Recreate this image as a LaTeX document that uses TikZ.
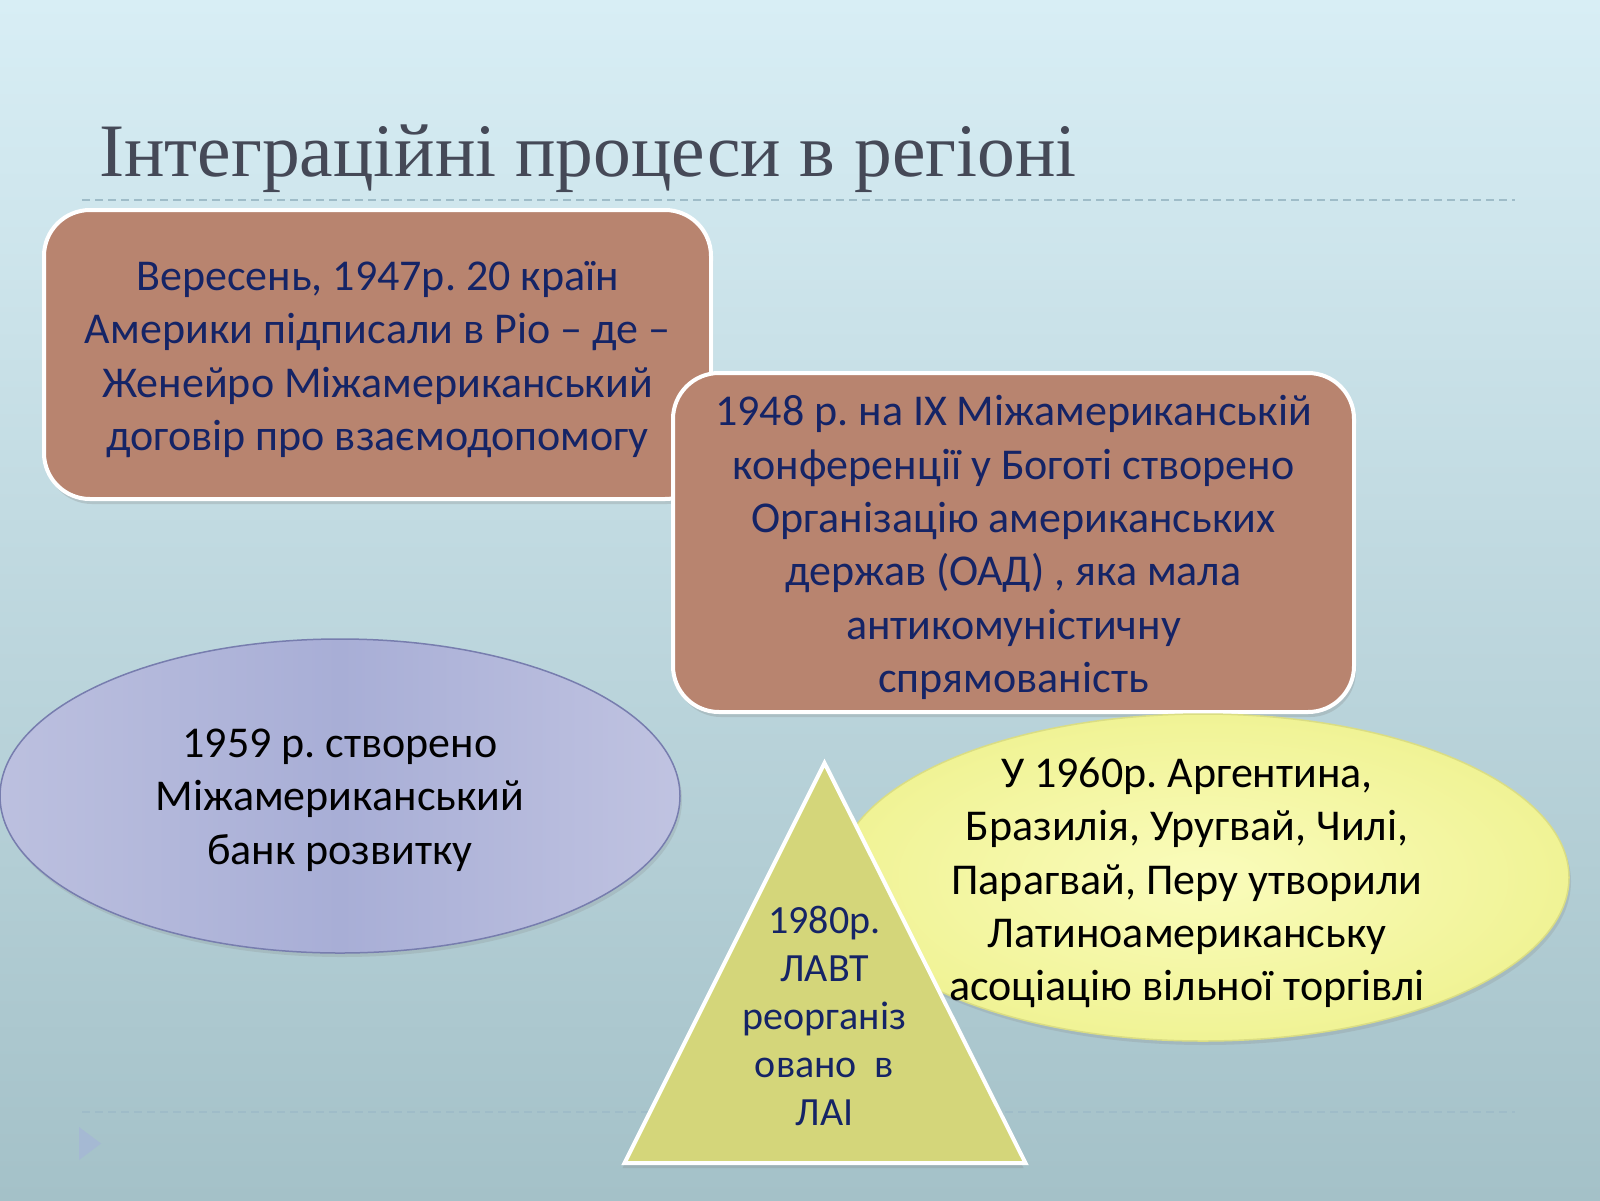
\documentclass[tikz,border=0pt]{standalone}
\usepackage{fontspec}
\setmainfont{Carlito}
\newfontfamily\titlefont{Liberation Serif}
\usetikzlibrary{shadows,shapes.geometric}
\definecolor{bgtop}{HTML}{D8EEF5}
\definecolor{bgbot}{HTML}{A4C1C8}
\definecolor{titlegray}{HTML}{454957}
\definecolor{dashcol}{HTML}{9FBCC8}
\definecolor{bulletcol}{HTML}{A5B9D3}
\definecolor{boxfill}{HTML}{B8846F}
\definecolor{navy}{HTML}{152466}
\definecolor{purpA}{HTML}{BCC0DF}
\definecolor{purpB}{HTML}{A8AED6}
\definecolor{purpC}{HTML}{C0C3E1}
\definecolor{purpline}{HTML}{777DAE}
\definecolor{yelin}{HTML}{FAFCBC}
\definecolor{yelout}{HTML}{F0F395}
\definecolor{yelline}{HTML}{DADD84}
\definecolor{trifill}{HTML}{D4D67A}
\tikzset{
  boxshape/.style={rectangle, rounded corners=46, draw=white, line width=4, fill=boxfill,
    drop shadow={opacity=0.25, shadow xshift=2pt, shadow yshift=-5pt}},
  boxtext/.style={align=center, text=navy, inner sep=0, font=\fontsize{44}{53.3}\selectfont\frenchspacing},
  blacktext/.style={align=center, text=black, inner sep=0, font=\fontsize{44}{53.3}\selectfont\frenchspacing},
  tritext/.style={align=center, text=navy, inner sep=0, font=\fontsize{40}{48}\selectfont\frenchspacing},
  dashline/.style={draw=dashcol, line width=1.5, dash pattern=on 8pt off 5pt},
}
\begin{document}
\begin{tikzpicture}[x=1pt,y=-1pt]
\useasboundingbox (0,0) rectangle (1600,1200);
\shade[top color=bgtop, bottom color=bgbot] (0,0) rectangle (1600,1200);
% title
\node[anchor=base west, inner sep=0, text=titlegray, font=\titlefont\fontsize{75.5}{90}\selectfont] (title) at (99,176) {Інтеграційні процеси в регіоні};
% dashed rules
\coordinate (r1a) at (82,200); \coordinate (r1b) at (1515,200);
\coordinate (r2a) at (82,1112); \coordinate (r2b) at (1515,1112);
\draw[dashline] (r1a) -- (r1b);
\draw[dashline] (r2a) -- (r2b);
% bullet
\fill[bulletcol] (79,1127) -- (79,1160) -- (101,1143.5) -- cycle;
% box 1
\node[boxshape, minimum width=667, minimum height=289] (b1) at (377.5,354.5) {};
\node[boxtext] (t1) at (377.5,359.5) {Вересень, 1947р. 20 країн\\Америки підписали в Ріо – де –\\Женейро Міжамериканський\\договір про взаємодопомогу};
% box 2
\node[boxshape, minimum width=681, minimum height=339] (b2) at (1013.5,542.5) {};
\node[boxtext] (t2) at (1013.5,547.5) {1948 р. на ІХ Міжамериканській\\конференції у Боготі створено\\Організацію американських\\держав (ОАД) , яка мала\\антикомуністичну\\спрямованість};
% purple ellipse
\node[ellipse, minimum width=680, minimum height=314, draw=purpline, line width=1.5,
  left color=purpA, right color=purpC, middle color=purpB,
  drop shadow={opacity=0.2, shadow xshift=2pt, shadow yshift=-4pt}] (e1) at (340,796) {};
\node[blacktext] (t3) at (340,800) {1959 р. створено\\Міжамериканський\\банк розвитку};
% yellow ellipse
\node[ellipse, minimum width=732, minimum height=327, draw=yelline, line width=1.5,
  inner color=yelin, outer color=yelout,
  drop shadow={opacity=0.2, shadow xshift=2pt, shadow yshift=-4pt}] (e2) at (1203,877.5) {};
\node[blacktext] (t4) at (1187,883) {У 1960р. Аргентина,\\Бразилія, Уругвай, Чилі,\\Парагвай, Перу утворили\\Латиноамериканську\\асоціацію вільної торгівлі};
% triangle
\draw[draw=white, line width=4, fill=trifill, line join=miter,
  drop shadow={opacity=0.25, shadow xshift=-2pt, shadow yshift=-5pt}]
  (824.5,763) -- (1025.5,1163) -- (624.5,1163) -- cycle;
\node[tritext] (t5) at (824.5,1016) {1980р.\\ЛАВТ\\реорганіз\\овано~ в\\ЛАІ};
\end{tikzpicture}
\end{document}
